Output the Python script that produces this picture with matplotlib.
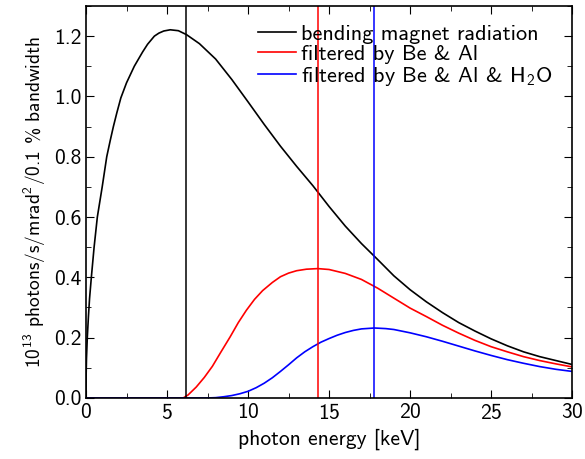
import numpy as np
import matplotlib
matplotlib.use('Agg')
import matplotlib.pyplot as plt
from matplotlib.ticker import MultipleLocator

plt.rcParams['font.family'] = ['cmss10', 'DejaVu Sans']
plt.rcParams['mathtext.fontset'] = 'custom'
plt.rcParams['mathtext.rm'] = 'cmss10'
plt.rcParams['mathtext.it'] = 'cmss10'
plt.rcParams['axes.formatter.use_mathtext'] = True
plt.rcParams['axes.unicode_minus'] = False

# bending magnet spectrum
x_bm = [0, 0.01, 0.03, 0.08, 0.15, 0.22, 0.33, 0.5, 0.7, 0.85, 1.0, 1.28, 1.5,
        1.69, 1.9, 2.15, 2.5, 2.98, 3.25, 3.5, 3.8, 4.22, 4.5, 4.8, 5.2, 5.7,
        6.2, 7, 8, 9, 10, 11, 12, 13, 14, 15, 16, 17, 18, 19, 20, 21, 22, 23,
        24, 25, 26, 27, 28, 29, 30]
y_bm = [0, 0.08, 0.13, 0.2, 0.27, 0.33, 0.4, 0.5, 0.6, 0.65, 0.7, 0.8, 0.855,
        0.9, 0.945, 0.995, 1.045, 1.1, 1.125, 1.148, 1.173, 1.2, 1.21, 1.217,
        1.221, 1.218, 1.205, 1.175, 1.124, 1.056, 0.982, 0.907, 0.835, 0.768,
        0.704, 0.635, 0.57, 0.512, 0.459, 0.405, 0.359, 0.319, 0.283, 0.25,
        0.222, 0.196, 0.173, 0.153, 0.137, 0.124, 0.111]

# filtered by Be & Al
x_al = [0, 6.0, 6.3, 6.8, 7.3, 7.8, 8.3, 8.9, 9.4, 9.9, 10.4, 10.9, 11.5, 12,
        12.5, 13, 13.6, 14.3, 15, 16, 17, 18, 19, 20, 21, 22, 23, 24, 25, 26,
        27, 28, 29, 30]
y_al = [0, 0, 0.01, 0.036, 0.068, 0.105, 0.15, 0.203, 0.25, 0.291, 0.327, 0.356,
        0.383, 0.402, 0.414, 0.422, 0.427, 0.429, 0.426, 0.413, 0.393, 0.364,
        0.331, 0.298, 0.27, 0.241, 0.215, 0.191, 0.17, 0.153, 0.137, 0.124,
        0.113, 0.103]

# filtered by Be & Al & H2O
x_h2o = [0, 7.5, 8, 8.5, 9, 9.5, 10, 10.5, 11, 11.5, 12, 12.5, 13, 13.5, 14,
         14.5, 15, 15.5, 16, 16.5, 17, 17.8, 18.5, 19, 20, 21, 22, 23, 24, 25,
         26, 27, 28, 29, 30]
y_h2o = [0, 0, 0.001, 0.004, 0.008, 0.014, 0.022, 0.034, 0.049, 0.067, 0.088,
         0.11, 0.133, 0.153, 0.17, 0.185, 0.197, 0.208, 0.217, 0.224, 0.229,
         0.232, 0.23, 0.227, 0.216, 0.203, 0.188, 0.172, 0.156, 0.141, 0.127,
         0.115, 0.104, 0.095, 0.088]

# peak positions
peaks = [6.15, 14.3, 17.8]
colors = ['black', 'red', 'blue']
labels = ['bending magnet radiation', 'filtered by Be & Al',
          r'filtered by Be & Al & H$_2$O']

fig = plt.figure(figsize=(5.85, 4.59), dpi=100)
ax = fig.add_axes([0.147, 0.133, 0.831, 0.854])

for xs, ys, c, lab in zip([x_bm, x_al, x_h2o], [y_bm, y_al, y_h2o], colors, labels):
    ax.plot(xs, ys, color=c, lw=1.2, label=lab)
for p, c in zip(peaks, colors):
    ax.axvline(p, color=c, lw=1.1)

ax.set_xlim(0, 30)
ax.set_ylim(0, 1.3)
ax.xaxis.set_major_locator(MultipleLocator(5))
ax.xaxis.set_minor_locator(MultipleLocator(2.5))
ax.yaxis.set_major_locator(MultipleLocator(0.2))
ax.yaxis.set_minor_locator(MultipleLocator(0.1))
ax.yaxis.set_major_formatter(plt.FormatStrFormatter('%.1f'))
ax.tick_params(which='both', direction='in', top=True, right=True, labelsize=15.5)
ax.tick_params(which='major', length=6)
ax.tick_params(which='minor', length=3.5)
for s in ax.spines.values():
    s.set_linewidth(1.2)

ax.set_xlabel('photon energy [keV]', fontsize=15.5)
ax.set_ylabel(r'$10^{13}$ photons/s/mrad$^2$/0.1 % bandwidth', fontsize=14)

ax.legend(loc='upper right', bbox_to_anchor=(0.985, 0.985), frameon=False,
          fontsize=16, handlelength=1.7, handletextpad=0.22, labelspacing=0.03,
          borderaxespad=0.15)

fig.savefig('out.png', dpi=100)
